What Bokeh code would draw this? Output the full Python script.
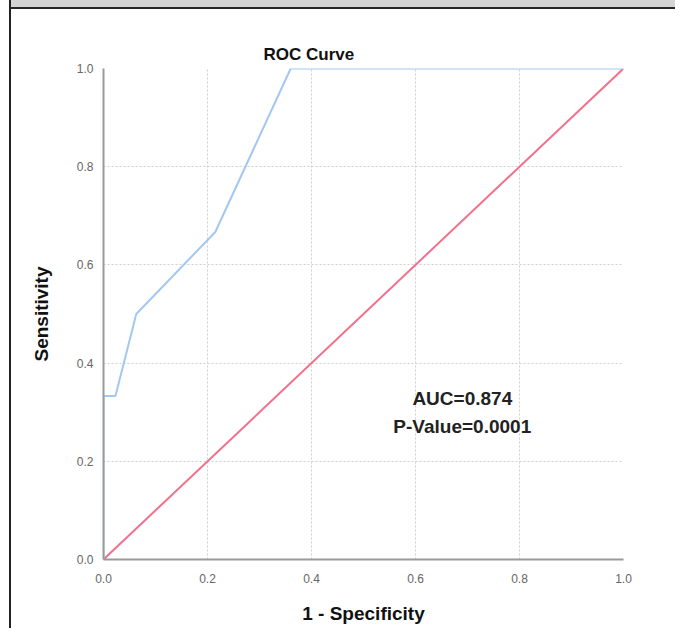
from bokeh.plotting import figure
from bokeh.models import Label, Range1d, FixedTicker, CustomJSTickFormatter
from bokeh.embed import file_html
from bokeh.resources import INLINE

# ROC curve data (1 - specificity, sensitivity)
fpr = [0.0, 0.0, 0.023, 0.063, 0.215, 0.36, 1.0]
tpr = [0.0, 0.333, 0.333, 0.5, 0.667, 1.0, 1.0]
ref_x = [0.0, 1.0]
ref_y = [0.0, 1.0]
ticks = [0.0, 0.2, 0.4, 0.6, 0.8, 1.0]
title_text = "ROC Curve"
x_label = "1 - Specificity"
y_label = "Sensitivity"
auc_text = "AUC=0.874"
p_text = "P-Value=0.0001"

FONT = "Liberation Sans"

p = figure(width=675, height=628, output_backend="svg", toolbar_location=None,
           x_range=Range1d(0, 1), y_range=Range1d(0, 1),
           frame_width=520, frame_height=491,
           min_border_left=103, min_border_right=52, min_border_top=68, min_border_bottom=69)
p.outline_line_color = None
p.background_fill_color = "white"
p.border_fill_alpha = 0
p.styles = {
    "background-color": "white",
    "background-image": "linear-gradient(#222,#222), linear-gradient(#262626,#262626), linear-gradient(#d4d4d4,#d4d4d4)",
    "background-size": "2px 100%, 100% 2px, 100% 7px",
    "background-position": "9px 0px, 9px 7px, 10px 0px",
    "background-repeat": "no-repeat",
}

p.title.text = title_text
p.title.align = "left"
p.title.offset = 160
p.title.text_font = FONT
p.title.text_font_style = "bold"
p.title.text_font_size = "17px"
p.title.text_color = "#111111"
p.title.standoff = 10

fmt = CustomJSTickFormatter(code="return tick.toFixed(1);")
for ax in (p.xaxis, p.yaxis):
    ax.ticker = FixedTicker(ticks=ticks)
    ax.formatter = fmt
    ax.axis_line_color = "#9a9a9a"
    ax.axis_line_width = 2
    ax.major_tick_line_color = None
    ax.minor_tick_line_color = None
    ax.major_label_text_font = FONT
    ax.major_label_text_font_size = "12px"
    ax.major_label_text_color = "#666666"
    ax.axis_label_text_font = FONT
    ax.axis_label_text_font_style = "bold"
    ax.axis_label_text_font_size = "19px"
    ax.axis_label_text_color = "#111111"

p.xaxis.axis_label = x_label
p.yaxis.axis_label = y_label
p.xaxis.major_label_standoff = 8
p.yaxis.major_label_standoff = 4
p.xaxis.axis_label_standoff = 17
p.yaxis.axis_label_standoff = 22

for g in (p.xgrid, p.ygrid):
    g.ticker = FixedTicker(ticks=ticks)
    g.grid_line_color = "#cfcfcf"
    g.grid_line_dash = "2 2"
    g.grid_line_width = 1

p.line(ref_x, ref_y, line_color="#f2708c", line_width=2)
p.line(fpr, tpr, line_color="#a3c8f0", line_width=2)

p.add_layout(Label(x=0.69, y=0.328, text=auc_text, text_align="center",
                   text_baseline="middle", text_font=FONT, text_font_style="bold",
                   text_font_size="19px", text_color="#222222"))
p.add_layout(Label(x=0.69, y=0.271, text=p_text, text_align="center",
                   text_baseline="middle", text_font=FONT, text_font_style="bold",
                   text_font_size="19px", text_color="#222222"))

open("out.html", "w").write(file_html(p, INLINE))
